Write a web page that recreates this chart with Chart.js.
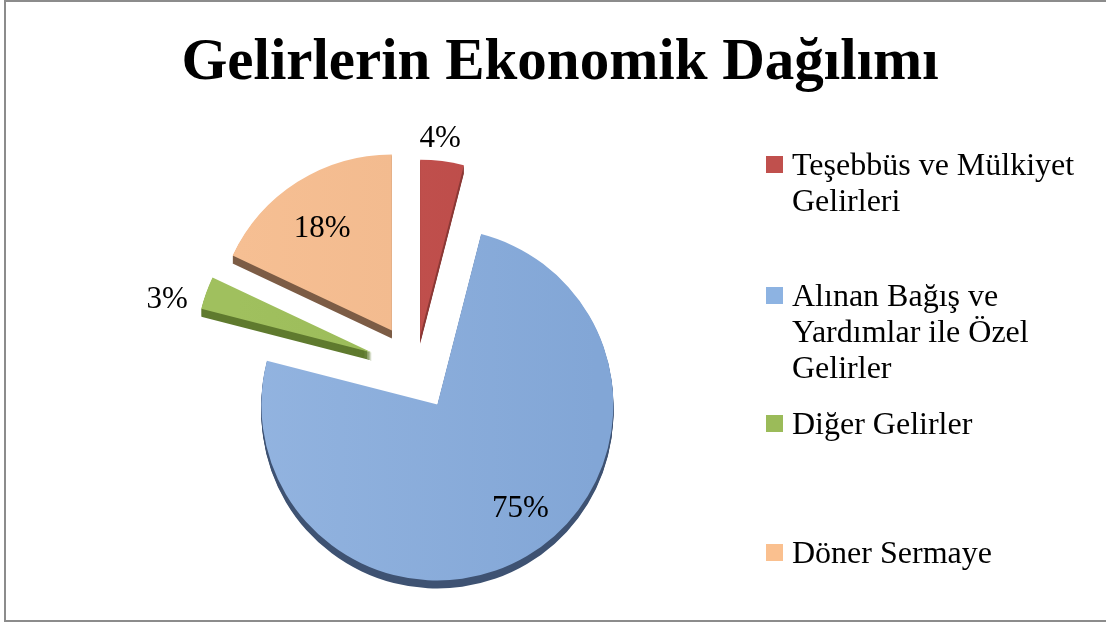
<!DOCTYPE html>
<html lang="tr">
<head>
<meta charset="utf-8">
<title>Gelirlerin Ekonomik Dağılımı</title>
<script src="https://cdn.jsdelivr.net/npm/chart.js@4.4.0/dist/chart.umd.min.js"></script>
<style>
    html, body { margin: 0; padding: 0; background: #fff; overflow: hidden; }
    #wrap { position: relative; width: 1106px; height: 624px; }
    #frame { position: absolute; left: 4px; top: 0; width: 1120px; height: 618px; border: 2px solid #8c8c8c; }
    #incomeChart { position: absolute; left: 0; top: 0; }
    .legend-item { position: absolute; left: 766px; width: 336px; font: 32px/36px 'Liberation Serif', serif; color: #000; }
    .legend-item .box { position: absolute; left: 0; top: 10px; width: 17px; height: 17px; }
    .legend-item .text { margin-left: 26px; width: 305px; }
</style>
</head>
<body>
<div id="wrap">
    <div id="frame"></div>
    <canvas id="incomeChart" width="1106" height="624"></canvas>
    <div id="legend"></div>
</div>
<script>
const categories = [
    'Teşebbüs ve Mülkiyet Gelirleri',
    'Alınan Bağış ve Yardımlar ile Özel Gelirler',
    'Diğer Gelirler',
    'Döner Sermaye'
];
const shares = [4, 75, 3, 18]; // yüzde

// üst yüz için açık/koyu ton (soldan sağa geçiş)
const topLight = ['#c55451', '#93b4e0', '#a0c05e', '#f6bf93'];
const topDark = ['#ba4a47', '#82a6d6', '#96b654', '#efb68a'];
const sideColors = ['#8b3835', '#3e5272', '#5f7a2e', '#7c5c45'];
const legendColors = ['#c0504d', '#8db3e2', '#9bbb59', '#fac08f'];

// dilimlerin merkezden ayrılma mesafesi (px)
const explode = [33, 42, 47, 45];
// etiketin dilim tepesinden uzaklığı (yarıçap oranı) ve açı kaydırması (derece)
const labelDistance = [1.125, 0.756, 1.2, 0.70];
const labelTurn = [-1.4, -8, -5.5, -2];
const legendTops = [146, 277, 405, 534];

const depth = 8;
const legendRoom = 288;

// lejant: sağ tarafta, çok satırlı metin
const legendEl = document.getElementById('legend');
categories.forEach((name, i) => {
    const item = document.createElement('div');
    item.className = 'legend-item';
    item.style.top = legendTops[i] + 'px';
    item.innerHTML = '<span class="box" style="background:' + legendColors[i] + '"></span><div class="text"></div>';
    item.querySelector('.text').textContent = name;
    legendEl.appendChild(item);
});

// pastayı lejantın solunda tut
const pieArea = {
    id: 'pieArea',
    afterLayout(chart) {
        const a = chart.chartArea;
        a.right -= legendRoom;
        a.width = a.right - a.left;
    }
};

// dilimleri orta açıları yönünde dışarı kaydır
const explodeSlices = {
    id: 'explodeSlices',
    afterDatasetUpdate(chart, args) {
        chart.getDatasetMeta(args.index).data.forEach((arc, i) => {
            const mid = (arc.startAngle + arc.endAngle) / 2;
            arc.x += Math.cos(mid) * explode[i];
            arc.y += Math.sin(mid) * explode[i];
        });
    }
};

// 3B görünüm için dilimlerin koyu yan yüzü
const sideFaces = {
    id: 'sideFaces',
    beforeDatasetsDraw(chart) {
        const ctx = chart.ctx;
        chart.getDatasetMeta(0).data.forEach((arc, i) => {
            const saved = arc.options;
            arc.options = Object.assign({}, saved, { backgroundColor: sideColors[i], borderWidth: 0 });
            for (let d = 1; d <= depth; d++) {
                ctx.save();
                ctx.translate(0, d);
                arc.draw(ctx);
                ctx.restore();
            }
            arc.options = saved;
        });
    }
};

// yüzde etiketleri
const sliceLabels = {
    id: 'sliceLabels',
    afterDatasetsDraw(chart) {
        const ctx = chart.ctx;
        const values = chart.data.datasets[0].data;
        chart.getDatasetMeta(0).data.forEach((arc, i) => {
            const angle = (arc.startAngle + arc.endAngle) / 2 + labelTurn[i] * Math.PI / 180;
            const dist = arc.outerRadius * labelDistance[i];
            ctx.save();
            ctx.font = "31px 'Liberation Serif', serif";
            ctx.fillStyle = '#000';
            ctx.textAlign = 'center';
            ctx.textBaseline = 'middle';
            ctx.fillText(values[i] + '%', arc.x + Math.cos(angle) * dist, arc.y + Math.sin(angle) * dist);
            ctx.restore();
        });
    }
};

const ctx = document.getElementById('incomeChart').getContext('2d');

const incomeChart = new Chart(ctx, {
    type: 'pie',
    data: {
        labels: categories,
        datasets: [{
            data: shares,
            backgroundColor: function (c) {
                const area = c.chart.chartArea;
                const i = c.dataIndex;
                if (!area || i === undefined) return topDark[0];
                const mid = (area.left + area.right) / 2;
                const g = c.chart.ctx.createLinearGradient(mid - 180, 0, mid + 180, 0);
                g.addColorStop(0, topLight[i]);
                g.addColorStop(1, topDark[i]);
                return g;
            },
            borderWidth: 0,
            offset: 0,
            hoverOffset: 0
        }]
    },
    options: {
        responsive: false,
        animation: false,
        events: [],
        radius: 176,
        layout: {
            padding: { left: 14 }
        },
        plugins: {
            legend: { display: false },
            tooltip: { enabled: false },
            title: {
                display: true,
                text: 'Gelirlerin Ekonomik Dağılımı',
                color: '#000',
                font: { family: "'Liberation Serif', serif", size: 59, weight: 'bold', lineHeight: 1.2 },
                padding: { top: 28, bottom: 14 }
            }
        }
    },
    plugins: [pieArea, explodeSlices, sideFaces, sliceLabels]
});
</script>
</body>
</html>
